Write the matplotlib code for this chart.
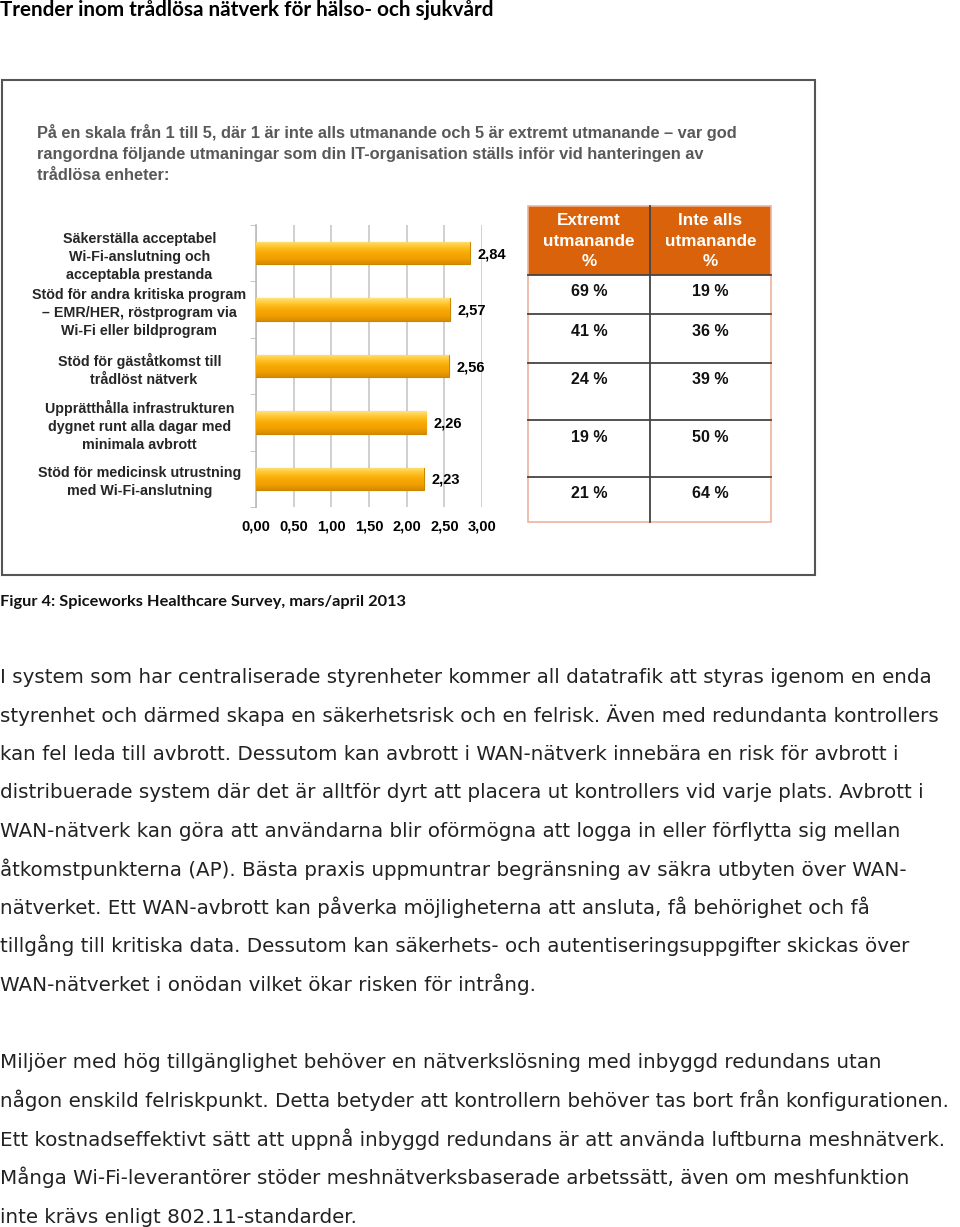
import numpy as np
import matplotlib
matplotlib.use("Agg")
import matplotlib.pyplot as plt
from matplotlib.patches import Rectangle
from matplotlib.colors import LinearSegmentedColormap
from matplotlib import font_manager

W, H = 960, 1227

kategorier = [
    "Säkerställa acceptabel\nWi-Fi-anslutning och\nacceptabla prestanda",
    "Stöd för andra kritiska program\n– EMR/HER, röstprogram via\nWi-Fi eller bildprogram",
    "Stöd för gäståtkomst till\n  trådlöst nätverk",
    "Upprätthålla infrastrukturen\ndygnet runt alla dagar med\nminimala avbrott",
    "Stöd för medicinsk utrustning\nmed Wi-Fi-anslutning",
]
medel = [2.84, 2.57, 2.56, 2.26, 2.23]
extremt = [69, 41, 24, 19, 21]
inte_alls = [19, 36, 39, 50, 64]
x_ticks = [0, 0.5, 1.0, 1.5, 2.0, 2.5, 3.0]
tabell_rubriker = ["Extremt\nutmanande\n%", "Inte alls\nutmanande\n%"]

rubrik = "Trender inom trådlösa nätverk för hälso- och sjukvård"
fraga = [
    "På en skala från 1 till 5, där 1 är inte alls utmanande och 5 är extremt utmanande – var god",
    "rangordna följande utmaningar som din IT-organisation ställs inför vid hanteringen av",
    "trådlösa enheter:",
]
figurtext = "Figur 4: Spiceworks Healthcare Survey, mars/april 2013"
stycke1 = [
    "I system som har centraliserade styrenheter kommer all datatrafik att styras igenom en enda",
    "styrenhet och därmed skapa en säkerhetsrisk och en felrisk. Även med redundanta kontrollers",
    "kan fel leda till avbrott. Dessutom kan avbrott i WAN-nätverk innebära en risk för avbrott i",
    "distribuerade system där det är alltför dyrt att placera ut kontrollers vid varje plats. Avbrott i",
    "WAN-nätverk kan göra att användarna blir oförmögna att logga in eller förflytta sig mellan",
    "åtkomstpunkterna (AP). Bästa praxis uppmuntrar begränsning av säkra utbyten över WAN-",
    "nätverket. Ett WAN-avbrott kan påverka möjligheterna att ansluta, få behörighet och få",
    "tillgång till kritiska data. Dessutom kan säkerhets- och autentiseringsuppgifter skickas över",
    "WAN-nätverket i onödan vilket ökar risken för intrång.",
]
stycke2 = [
    "Miljöer med hög tillgänglighet behöver en nätverkslösning med inbyggd redundans utan",
    "någon enskild felriskpunkt. Detta betyder att kontrollern behöver tas bort från konfigurationen.",
    "Ett kostnadseffektivt sätt att uppnå inbyggd redundans är att använda luftburna meshnätverk.",
    "Många Wi-Fi-leverantörer stöder meshnätverksbaserade arbetssätt, även om meshfunktion",
    "inte krävs enligt 802.11-standarder.",
]

fig = plt.figure(figsize=(W / 100, H / 100), dpi=100)
renderer = fig.canvas.get_renderer()


def ptext(x, y, s, **kw):
    return fig.text(x / W, 1 - y / H, s, **kw)


def fit_size(s, target, family, weight="normal", start=12):
    t = fig.text(0, 0, s, fontsize=start, family=family, weight=weight)
    w = t.get_window_extent(renderer).width
    t.remove()
    return start * target / w


installed = {f.name for f in font_manager.fontManager.ttflist}
head_font = "Liberation Sans Narrow" if "Liberation Sans Narrow" in installed else "Lato"

# document text
doc_font = "DejaVu Sans"
size_t = fit_size(rubrik, 492, head_font, "bold")
ptext(0, 16, rubrik, fontsize=size_t, family=head_font, weight="bold", color="black")
size_c = fit_size(figurtext, 403, head_font, "bold")
ptext(0, 606, figurtext, fontsize=size_c, family=head_font, weight="bold", color="#111111")

size_b = fit_size(stycke1[0], 932, doc_font)
for i, line in enumerate(stycke1):
    ptext(0, 683 + i * 38.5, line, fontsize=size_b, family=doc_font, color="#222222")
for i, line in enumerate(stycke2):
    ptext(0, 1068 + i * 38.8, line, fontsize=size_b, family=doc_font, color="#222222")

# chart frame
frame = fig.add_axes([0, 0, 1, 1], zorder=-1)
frame.set_xlim(0, W)
frame.set_ylim(H, 0)
frame.axis("off")
frame.add_patch(Rectangle((2, 80), 813, 495, fill=False, ec="#555555", lw=1.5))

chart_font = "Liberation Sans"
size_q = fit_size(fraga[0], 698, chart_font, "bold")
for i, line in enumerate(fraga):
    ptext(37, 138 + i * 21, line, fontsize=size_q, family=chart_font, weight="bold",
          color="#595959")

# bar chart
ax = fig.add_axes([256 / W, 1 - 507 / H, 226 / W, 282 / H])
y = np.arange(len(medel))
bars = ax.barh(y, medel, height=0.4, color="#F6A400", ec="#C98700", lw=0.8, zorder=3)
cmap = LinearSegmentedColormap.from_list(
    "bar", ["#FFE27A", "#FFC42A", "#F8AA06", "#F2A000", "#D88B00"])
grad = np.linspace(0, 1, 64).reshape(-1, 1)
for b in bars:
    x0, y0, bw, bh = b.get_x(), b.get_y(), b.get_width(), b.get_height()
    im = ax.imshow(grad, cmap=cmap, extent=(x0, x0 + bw, y0 + bh, y0), origin="upper",
                   aspect="auto", zorder=3.5)
    im.set_clip_path(b)
for i, v in enumerate(medel):
    ax.text(v + 0.1, i + 0.02, f"{v:.2f}".replace(".", ","), ha="left", va="center",
            fontsize=10.5, family=chart_font, weight="bold", color="black")

ax.set_xlim(0, 3.0)
ax.set_ylim(len(medel) - 0.5, -0.5)
ax.set_xticks(x_ticks)
ax.set_xticklabels([f"{t:.2f}".replace(".", ",") for t in x_ticks], fontsize=10.5,
                   family=chart_font, weight="bold")
ax.tick_params(axis="x", length=0, pad=9)
ax.set_yticks(y)
ax.set_yticklabels(kategorier, fontsize=10.3, family=chart_font, weight="bold",
                   color="#262626", ha="center", multialignment="center", linespacing=1.38)
ax.tick_params(axis="y", length=0, pad=84)
ax.set_yticks(np.arange(-0.5, len(medel), 1), minor=True)
ax.tick_params(axis="y", which="minor", length=4, color="#BBBBBB", direction="out")
ax.grid(axis="x", color="#C8C8C8", lw=1.2, zorder=0)
for s in ["top", "right", "bottom"]:
    ax.spines[s].set_visible(False)
ax.spines["left"].set_color("#BBBBBB")
ax.spines["left"].set_linewidth(1.2)
ax.patch.set_alpha(0)

# table
tx0, tx1, tmid = 528, 771, 650
top, head_bot = 206, 275
rad_hojd = [39, 49, 57, 57, 45]
frame.add_patch(Rectangle((tx0, top), tx1 - tx0, head_bot - top, color="#D9620B", lw=0))
for cx, h in zip([(tx0 + tmid) / 2, (tmid + tx1) / 2], tabell_rubriker):
    ptext(cx, 241, h, ha="center", va="center", fontsize=12.3, family=chart_font,
          weight="bold", color="white", linespacing=1.42)
rad_topp = head_bot + np.concatenate([[0], np.cumsum(rad_hojd)])
for i, (a, b) in enumerate(zip(extremt, inte_alls)):
    ry = rad_topp[i]
    frame.plot([tx0, tx1], [ry, ry], color="#444444", lw=1.3)
    ptext((tx0 + tmid) / 2, ry + 17, f"{a} %", ha="center", va="center", fontsize=11.5,
          family=chart_font, weight="bold", color="#111111")
    ptext((tmid + tx1) / 2, ry + 17, f"{b} %", ha="center", va="center", fontsize=11.5,
          family=chart_font, weight="bold", color="#111111")
bottom = rad_topp[-1]
frame.plot([tmid, tmid], [top, bottom], color="#444444", lw=1.3)
frame.add_patch(Rectangle((tx0, top), tx1 - tx0, bottom - top, fill=False, ec="#EDB49E", lw=1.2))

fig.savefig("out.png", dpi=100)
